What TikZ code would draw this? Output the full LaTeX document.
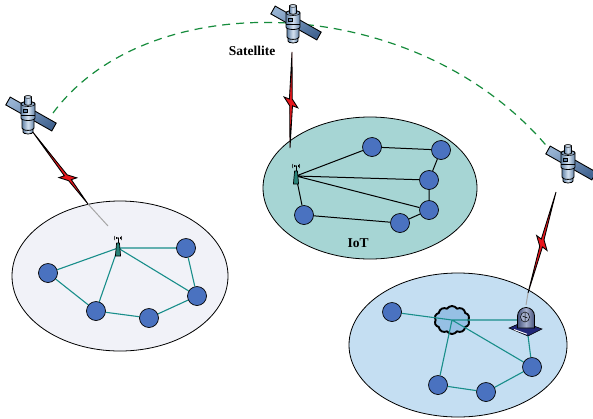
\documentclass[tikz,border=0pt]{standalone}
\usepackage{fontspec}
\setmainfont{Liberation Serif}
\usetikzlibrary{calc,shapes.symbols}

\definecolor{devblue}{RGB}{74,114,192}
\definecolor{linkteal}{RGB}{24,142,138}
\definecolor{orbitgreen}{RGB}{22,140,60}
\definecolor{boltred}{RGB}{232,22,28}
\definecolor{zoneA}{RGB}{241,242,248}
\definecolor{zoneB}{RGB}{166,213,212}
\definecolor{zoneC}{RGB}{196,222,242}
\definecolor{panellight}{RGB}{150,178,210}
\definecolor{paneldark}{RGB}{66,100,145}
\definecolor{bodydark}{RGB}{100,132,168}
\definecolor{bodylight}{RGB}{215,228,242}
\definecolor{towerteal}{RGB}{40,130,120}
\definecolor{cloudblue}{RGB}{150,192,228}
\definecolor{basenavy}{RGB}{34,40,120}
\definecolor{domedark}{RGB}{70,82,125}
\definecolor{domelight}{RGB}{165,175,205}

\pgfdeclarelayer{zones}
\pgfdeclarelayer{links}
\pgfsetlayers{zones,links,main}

% lightning bolt between two points; #3 and #4 are the positions (fractions
% of the length) of the left and right jag tips
\newcommand\boltshape[4]{%
  \pgfmathsetmacro\bsLa{#3}%
  \pgfmathsetmacro\bsLb{#3+0.02}%
  \pgfmathsetmacro\bsLc{#3+0.09}%
  \pgfmathsetmacro\bsRa{#4-0.09}%
  \pgfmathsetmacro\bsRb{#4}%
  \pgfmathsetmacro\bsRc{#4-0.02}%
  \filldraw[boltfill] (#1)
    -- ($(#1)!\bsRa!(#2)!1.2pt!90:(#2)$)
    -- ($(#1)!\bsRb!(#2)!7pt!90:(#2)$)
    -- ($(#1)!\bsRc!(#2)!1.6pt!90:(#2)$)
    -- (#2)
    -- ($(#1)!\bsLc!(#2)!1.2pt!-90:(#2)$)
    -- ($(#1)!\bsLa!(#2)!7pt!-90:(#2)$)
    -- ($(#1)!\bsLb!(#2)!1.6pt!-90:(#2)$)
    -- cycle;}

\tikzset{
  satbody/.style={draw=black,line width=0.8pt,left color=bodydark,right color=bodydark,middle color=bodylight},
  satellite/.pic={
    % solar panel
    \shade[draw=black,line width=0.9pt,top color=panellight,bottom color=paneldark,shading angle=30]
      (-17.8,-18.9) -- (28.2,7.1) -- (23.8,14.9) -- (-22.2,-11.1) -- cycle;
    % bottom cap
    \shade[satbody] (-5,12) -- (-5,16) arc[start angle=180,end angle=360,x radius=5pt,y radius=2pt] -- (5,12) -- cycle;
    % lower body
    \shade[satbody] (-6,1) -- (-6,12) arc[start angle=180,end angle=360,x radius=6pt,y radius=2.4pt] -- (6,1) -- cycle;
    % upper collar
    \shade[satbody] (-7,-12) -- (-7,2) arc[start angle=180,end angle=360,x radius=7pt,y radius=2.5pt]
      -- (7,-12) arc[start angle=0,end angle=180,x radius=7pt,y radius=2.5pt] -- cycle;
    \draw[line width=0.6pt] (0,-12) ellipse[x radius=7pt,y radius=2.5pt];
    \draw[line width=0.5pt,fill=bodydark] (-5,-7) rectangle (-1,-4);
    \draw[line width=0.5pt] (-7,-1) -- (7,-1);
    % top knob
    \shade[satbody] (-3.5,-19) -- (-3.5,-12) arc[start angle=180,end angle=360,x radius=3.5pt,y radius=1.3pt]
      -- (3.5,-19) arc[start angle=0,end angle=180,x radius=3.5pt,y radius=1.3pt] -- cycle;
    \draw[line width=0.5pt,fill=bodylight] (0,-19) ellipse[x radius=3.5pt,y radius=1.3pt];
  },
  tower/.pic={
    \draw[line width=0.6pt] (0,-5) -- (0,-10);
    \fill (0,-10) circle (0.9pt);
    \draw[line width=0.5pt] (0,-10) ++(150:2.2pt) arc[start angle=150,end angle=210,radius=2.2pt];
    \draw[line width=0.5pt] (0,-10) ++(30:2.2pt) arc[start angle=30,end angle=-30,radius=2.2pt];
    \draw[line width=0.5pt] (0,-10) ++(145:3.8pt) arc[start angle=145,end angle=215,radius=3.8pt];
    \draw[line width=0.5pt] (0,-10) ++(35:3.8pt) arc[start angle=35,end angle=-35,radius=3.8pt];
    \filldraw[fill=towerteal,draw=black,line width=0.7pt]
      (-1.4,-5) -- (1.4,-5) -- (2.6,8) -- (-2.6,8) -- cycle;
  },
  terminal/.pic={
    % base plate
    \filldraw[fill=basenavy,draw=black,line width=0.6pt] (-17,8) -- (-3,2) -- (16,9) -- (2,16) -- cycle;
    \draw[white,line width=0.9pt] (-12,9.5) -- (1,14.2);
    % dome with dish
    \shade[draw=black,line width=0.8pt,left color=domedark,right color=domedark,middle color=domelight]
      (-8.5,8) -- (-8.5,-4) arc[start angle=180,end angle=0,radius=8.5pt] -- (8.5,8) -- cycle;
    \draw[line width=0.5pt,fill=domelight] (-1,-3) ellipse[x radius=4.5pt,y radius=5pt];
    \draw[line width=0.5pt] (-3.5,-4) -- (1.5,-2) (-1,-7.5) -- (-1,1.5);
  },
}

\begin{document}
\begin{tikzpicture}[x=1pt,y=-1pt,
  region/.style={draw=black,line width=0.8pt},
  dev/.style={circle,draw=black,line width=0.7pt,fill=devblue,minimum size=19pt,inner sep=0pt},
  tealedge/.style={draw=linkteal,line width=1.1pt},
  darkedge/.style={draw=black,line width=1pt},
  orbit/.style={draw=orbitgreen,line width=1.2pt,dash pattern=on 8pt off 6pt},
  boltfill/.style={fill=boltred,draw=black,line width=0.85pt,line join=miter},
  feed/.style={draw=black!35,line width=1pt},
  lbl/.style={font=\bfseries\fontsize{13.5}{15}\selectfont,inner sep=0pt},
]
\useasboundingbox (0,0) rectangle (593,418);

% background and coverage areas
\begin{pgfonlayer}{zones}
\fill[white] (0,0) rectangle (593,418);
\path[region,fill=zoneA] (120,276) ellipse[x radius=108pt,y radius=75pt];
\path[region,fill=zoneB] (370,188) ellipse[x radius=107pt,y radius=71pt];
\path[region,fill=zoneC] (458,345) ellipse[x radius=109pt,y radius=72pt];
\node[cloud,cloud puffs=10,cloud puff arc=110,aspect=1.25,minimum width=35pt,minimum height=28pt,
      fill=cloudblue,draw=black,line width=1.9pt] (cl) at (452,320) {};
\end{pgfonlayer}

% satellite positions and orbit
\coordinate (satL) at (28,116);
\coordinate (satT) at (293,25);
\coordinate (satR) at (568,165);
\coordinate (orbL) at (53,113);
\coordinate (orbR) at (550,150);
\draw[orbit] (orbL) .. controls (150,-18) and (420,-8) .. (orbR);

% radio links
\coordinate (bLa) at (32,131);  \coordinate (bLb) at (88,204);
\coordinate (bTa) at (292,52);  \coordinate (bTb) at (290,148);
\coordinate (bRa) at (556,192); \coordinate (bRb) at (528,293);
\coordinate (feedL) at (108,226);
\coordinate (feedR) at (526,305);
\draw[feed] (bLb) -- (feedL);
\draw[feed] (bRb) -- (feedR);
\boltshape{bLa}{bLb}{0.58}{0.70}
\boltshape{bTa}{bTb}{0.47}{0.58}
\boltshape{bRa}{bRb}{0.45}{0.56}

% left network
\coordinate (t1) at (118,248);
\node[dev] (n1) at (48,273) {};
\node[dev] (n2) at (186,248) {};
\node[dev] (n3) at (197,296) {};
\node[dev] (n4) at (96,311) {};
\node[dev] (n5) at (149,318) {};
\begin{pgfonlayer}{links}
\draw[tealedge] (t1) -- (n1) (t1) -- (n2) (t1) -- (n3) (t1) -- (n4)
  (n1) -- (n4) (n4) -- (n5) (n5) -- (n3) (n2) -- (n3);
\end{pgfonlayer}
\pic at (t1) {tower};

% IoT network
\coordinate (t2) at (296,176);
\node[dev] (a) at (372,147) {};
\node[dev] (b) at (441,150) {};
\node[dev] (c) at (429,180) {};
\node[dev] (d) at (429,210) {};
\node[dev] (e) at (400,223) {};
\node[dev] (f) at (304,215) {};
\begin{pgfonlayer}{links}
\draw[darkedge] (t2) -- (a) (t2) -- (c) (t2) -- (d) (t2) -- (f)
  (a) -- (b) (b) -- (c) (c) -- (d) (d) -- (e) (e) -- (f);
\end{pgfonlayer}
\pic at (t2) {tower};
\node[lbl] (iot) at (358,243) {IoT};

% right network
\coordinate (term) at (526,320);
\node[dev] (g) at (392,312) {};
\node[dev] (h) at (532,367) {};
\node[dev] (i) at (438,385) {};
\node[dev] (j) at (486,392) {};
\begin{pgfonlayer}{links}
\draw[tealedge] (cl.center) -- (g) (cl.center) -- (term) (cl.center) -- (h) (cl.center) -- (i)
  (term) -- (h) (h) -- (j) (j) -- (i);
\end{pgfonlayer}
\pic at (term) {terminal};

% satellites
\pic at (satL) {satellite};
\pic at (satT) {satellite};
\pic at (satR) {satellite};
\node[lbl] (satlabel) at (252,51) {Satellite};
\end{tikzpicture}
\end{document}
